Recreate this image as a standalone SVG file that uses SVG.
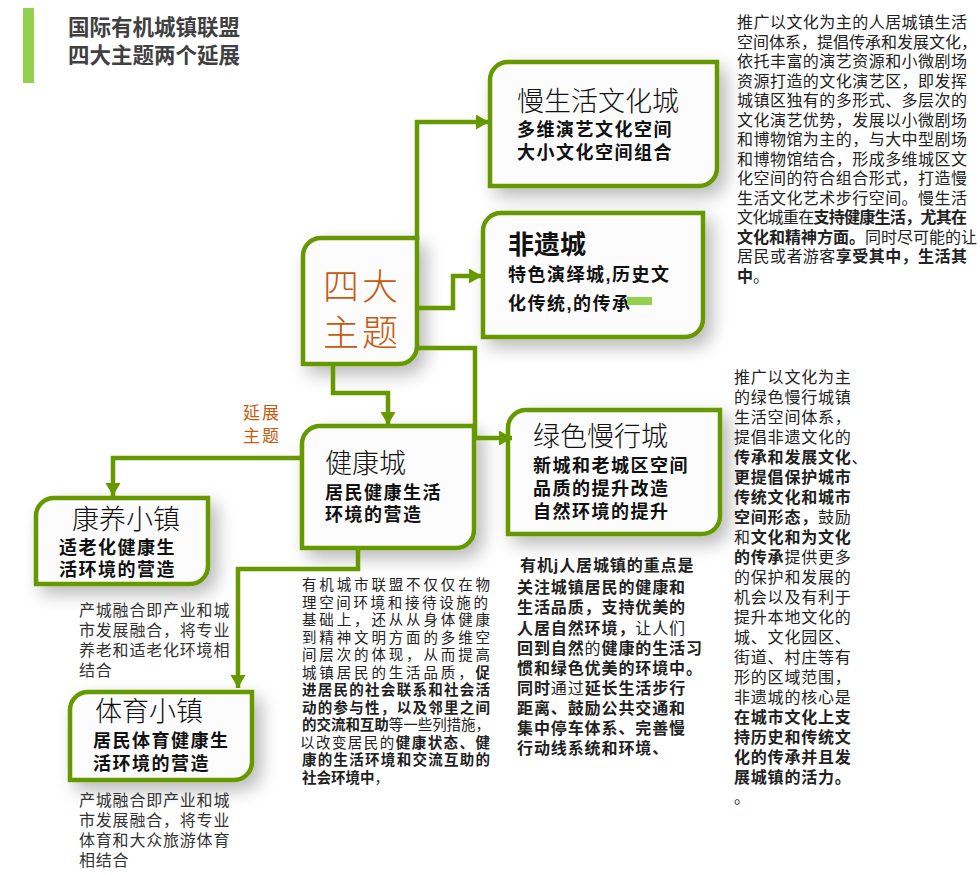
<svg xmlns="http://www.w3.org/2000/svg" width="980" height="875" viewBox="0 0 980 875">
<defs>
<style>
.box{fill:#fcfcfc;stroke:#669900;stroke-width:4.5;filter:url(#sh)}
.con{fill:none;stroke:#669900;stroke-width:4.5;stroke-linejoin:miter}
.t{font-family:"Liberation Sans","Noto Sans CJK SC",sans-serif;fill:#111}
.ttl{font-size:27px;font-weight:300}
.sub{font-size:18px;font-weight:bold;letter-spacing:1.5px}
.desc{font-size:16px;fill:#222}
.b{font-weight:bold}
.n{font-weight:normal}
</style>
<filter id="sh" x="-30%" y="-30%" width="170%" height="170%">
<feGaussianBlur in="SourceAlpha" stdDeviation="9"/>
<feOffset dx="7" dy="8" result="o"/>
<feComponentTransfer><feFuncA type="linear" slope="0.28"/></feComponentTransfer>
<feMerge><feMergeNode/><feMergeNode in="SourceGraphic"/></feMerge>
</filter>
<marker id="ar" markerUnits="userSpaceOnUse" markerWidth="14" markerHeight="16" refX="13" refY="7.5" orient="auto">
<path d="M0,0 L13,7.5 L0,15 Z" fill="#669900"/>
</marker>
</defs>
<rect width="980" height="875" fill="#ffffff"/>

<g id="title">
<rect x="23" y="8" width="11" height="75" fill="#92d050"/>
<text class="t" x="68" y="35" font-size="21.5" font-weight="bold" style="fill:#404040">国际有机城镇联盟</text>
<text class="t" x="68" y="63" font-size="21.5" font-weight="bold" style="fill:#404040">四大主题两个延展</text>
</g>

<g id="node-sida">
<path class="box" d="M321,238 H417 V346 A18 18 0 0 1 399,364 H303 V256 A18 18 0 0 1 321,238 Z"/>
<text class="t" x="323" y="300" font-size="36" font-weight="300" letter-spacing="3" style="fill:#c55a11">四大</text>
<text class="t" x="323" y="346" font-size="36" font-weight="300" letter-spacing="3" style="fill:#c55a11">主题</text>
</g>

<g id="node-manshenghuo">
<path class="box" d="M508,62 H717 V168 A18 18 0 0 1 699,186 H490 V80 A18 18 0 0 1 508,62 Z"/>
<text class="t ttl" x="517" y="111">慢生活文化城</text>
<text class="t sub" x="517" y="136">多维演艺文化空间</text>
<text class="t sub" x="517" y="159">大小文化空间组合</text>
</g>

<g id="node-feiyi">
<path class="box" d="M501,213 H703 V319 A18 18 0 0 1 685,337 H483 V231 A18 18 0 0 1 501,213 Z"/>
<text class="t" x="508" y="254" font-size="26" font-weight="bold">非遗城</text>
<text class="t sub" x="508" y="281" letter-spacing="2">特色演绎城,历史文</text>
<text class="t sub" x="508" y="310" letter-spacing="2">化传统,的传承</text>
<rect x="627" y="297" width="25" height="8" fill="#92d050"/>
</g>

<g id="node-jiankang">
<path class="box" d="M320,426 H474 V530 A18 18 0 0 1 456,548 H302 V444 A18 18 0 0 1 320,426 Z"/>
<text class="t ttl" x="325" y="473">健康城</text>
<text class="t sub" x="325" y="499">居民健康生活</text>
<text class="t sub" x="325" y="521">环境的营造</text>
</g>

<g id="node-lvse">
<path class="box" d="M526,410 H720 V516 A18 18 0 0 1 702,534 H508 V428 A18 18 0 0 1 526,410 Z"/>
<text class="t ttl" x="533" y="446">绿色慢行城</text>
<text class="t sub" x="533" y="472">新城和老城区空间</text>
<text class="t sub" x="533" y="495">品质的提升改造</text>
<text class="t sub" x="533" y="518">自然环境的提升</text>
</g>

<g id="node-kangyang">
<path class="box" d="M54,498 H208 V566 A18 18 0 0 1 190,584 H36 V516 A18 18 0 0 1 54,498 Z"/>
<text class="t ttl" x="72" y="529">康养小镇</text>
<text class="t sub" x="59" y="554">适老化健康生</text>
<text class="t sub" x="59" y="576">活环境的营造</text>
</g>

<g id="node-tiyu">
<path class="box" d="M88,692 H252 V762 A18 18 0 0 1 234,780 H70 V710 A18 18 0 0 1 88,692 Z"/>
<text class="t ttl" x="95" y="721">体育小镇</text>
<text class="t sub" x="93" y="747">居民体育健康生</text>
<text class="t sub" x="93" y="770">活环境的营造</text>
</g>

<g id="label-yanzhan">
<text class="t" x="243" y="419" font-size="17" letter-spacing="2" style="fill:#c55a11">延展</text>
<text class="t" x="243" y="442" font-size="17" letter-spacing="2" style="fill:#c55a11">主题</text>
</g>

<g id="connectors">
<path class="con" d="M417,240 V122 H489" marker-end="url(#ar)"/>
<path class="con" d="M417,308 H453 V276 H482" marker-end="url(#ar)"/>
<path class="con" d="M417,348 H475 V438 H512" marker-end="url(#ar)"/>
<path class="con" d="M333,364 V393 H388 V425" marker-end="url(#ar)"/>
<path class="con" d="M302,458 H113 V496" marker-end="url(#ar)"/>
<path class="con" d="M358,548 V569 H238 V688" marker-end="url(#ar)"/>
</g>

<g id="text-top-right" class="t desc">
<text x="737" y="28" textLength="230" lengthAdjust="spacing">推广以文化为主的人居城镇生活</text>
<text x="737" y="47.5" textLength="240" lengthAdjust="spacing">空间体系，提倡传承和发展文化，</text>
<text x="737" y="67" textLength="230" lengthAdjust="spacing">依托丰富的演艺资源和小微剧场</text>
<text x="737" y="86.5" textLength="230" lengthAdjust="spacing">资源打造的文化演艺区，即发挥</text>
<text x="737" y="106" textLength="230" lengthAdjust="spacing">城镇区独有的多形式、多层次的</text>
<text x="737" y="125.5" textLength="230" lengthAdjust="spacing">文化演艺优势，发展以小微剧场</text>
<text x="737" y="145" textLength="230" lengthAdjust="spacing">和博物馆为主的，与大中型剧场</text>
<text x="737" y="164.5" textLength="230" lengthAdjust="spacing">和博物馆结合，形成多维城区文</text>
<text x="737" y="184" textLength="230" lengthAdjust="spacing">化空间的符合组合形式，打造慢</text>
<text x="737" y="203.5" textLength="230" lengthAdjust="spacing">生活文化艺术步行空间。慢生活</text>
<text x="737" y="223" textLength="230" lengthAdjust="spacing">文化城重在<tspan class="b">支持健康生活，尤其在</tspan></text>
<text x="737" y="242.5" textLength="240" lengthAdjust="spacing"><tspan class="b">文化和精神方面。</tspan>同时尽可能的让</text>
<text x="737" y="262" textLength="230" lengthAdjust="spacing">居民或者游客<tspan class="b">享受其中，生活其</tspan></text>
<text x="737" y="281.5"><tspan class="b">中</tspan>。</text>
</g>

<g id="text-bottom-right" class="t desc" letter-spacing="0.8">
<text x="734" y="383">推广以文化为主</text>
<text x="734" y="403">的绿色慢行城镇</text>
<text x="734" y="423">生活空间体系，</text>
<text x="734" y="443">提倡非遗文化的</text>
<text x="734" y="463"><tspan class="b">传承和发展文化</tspan>、</text>
<text x="734" y="483" class="b">更提倡保护城市</text>
<text x="734" y="503" class="b">传统文化和城市</text>
<text x="734" y="523"><tspan class="b">空间形态，</tspan>鼓励</text>
<text x="734" y="543">和<tspan class="b">文化和为文化</tspan></text>
<text x="734" y="563"><tspan class="b">的传承</tspan>提供更多</text>
<text x="734" y="583">的保护和发展的</text>
<text x="734" y="603">机会以及有利于</text>
<text x="734" y="623">提升本地文化的</text>
<text x="734" y="643">城、文化园区、</text>
<text x="734" y="663">街道、村庄等有</text>
<text x="734" y="683">形的区域范围，</text>
<text x="734" y="703">非遗城的核心是</text>
<text x="734" y="723" class="b">在城市文化上支</text>
<text x="734" y="743" class="b">持历史和传统文</text>
<text x="734" y="763" class="b">化的传承并且发</text>
<text x="734" y="783" class="b">展城镇的活力。</text>
<text x="734" y="803">。</text>
</g>

<g id="text-health" class="t" font-size="14.5" style="fill:#222">
<text x="302" y="590" textLength="188" lengthAdjust="spacing">有机城市联盟不仅仅在物</text>
<text x="302" y="607.5" textLength="186" lengthAdjust="spacing">理空间环境和接待设施的</text>
<text x="302" y="625" textLength="188" lengthAdjust="spacing">基础上，还从从身体健康</text>
<text x="302" y="642.5" textLength="188" lengthAdjust="spacing">到精神文明方面的多维空</text>
<text x="302" y="660" textLength="188" lengthAdjust="spacing">间层次的体现，从而提高</text>
<text x="302" y="677.5" textLength="188" lengthAdjust="spacing">城镇居民的生活品质，<tspan class="b">促</tspan></text>
<text x="302" y="695" textLength="188" lengthAdjust="spacing" class="b">进居民的社会联系和社会活</text>
<text x="302" y="712.5" textLength="188" lengthAdjust="spacing" class="b">动的参与性，以及邻里之间</text>
<text x="302" y="730" textLength="188" lengthAdjust="spacing"><tspan class="b">的交流和互助</tspan>等一些列措施，</text>
<text x="300" y="747.5" textLength="190" lengthAdjust="spacing">以改变居民的<tspan class="b">健康状态、健</tspan></text>
<text x="302" y="765" textLength="188" lengthAdjust="spacing" class="b">康的生活环境和交流互助的</text>
<text x="302" y="782.5"><tspan class="b">社会环境中</tspan>，</text>
</g>

<g id="text-green" class="t desc b" letter-spacing="0.9">
<text x="520" y="571">有机j人居城镇的重点是</text>
<text x="517" y="592.5">关注城镇居民的健康和</text>
<text x="517" y="613">生活品质，支持优美的</text>
<text x="517" y="633.5">人居自然环境，<tspan class="n">让人们</tspan></text>
<text x="517" y="654">回到自然<tspan class="n">的</tspan>健康的生活习</text>
<text x="517" y="674">惯和绿色优美的环境中。</text>
<text x="517" y="694">同时<tspan class="n">通过</tspan>延长生活步行</text>
<text x="517" y="714">距离、鼓励公共交通和</text>
<text x="517" y="734">集中停车体系、完善慢</text>
<text x="517" y="754">行动线系统和环境、</text>
</g>

<g id="text-kangyang" class="t desc" letter-spacing="0.8" style="fill:#333">
<text x="79" y="616">产城融合即产业和城</text>
<text x="79" y="636">市发展融合，将专业</text>
<text x="79" y="656">养老和适老化环境相</text>
<text x="79" y="676">结合</text>
</g>

<g id="text-tiyu" class="t desc" letter-spacing="0.8" style="fill:#333">
<text x="79" y="806">产城融合即产业和城</text>
<text x="79" y="826">市发展融合，将专业</text>
<text x="79" y="846">体育和大众旅游体育</text>
<text x="79" y="866">相结合</text>
</g>
</svg>
